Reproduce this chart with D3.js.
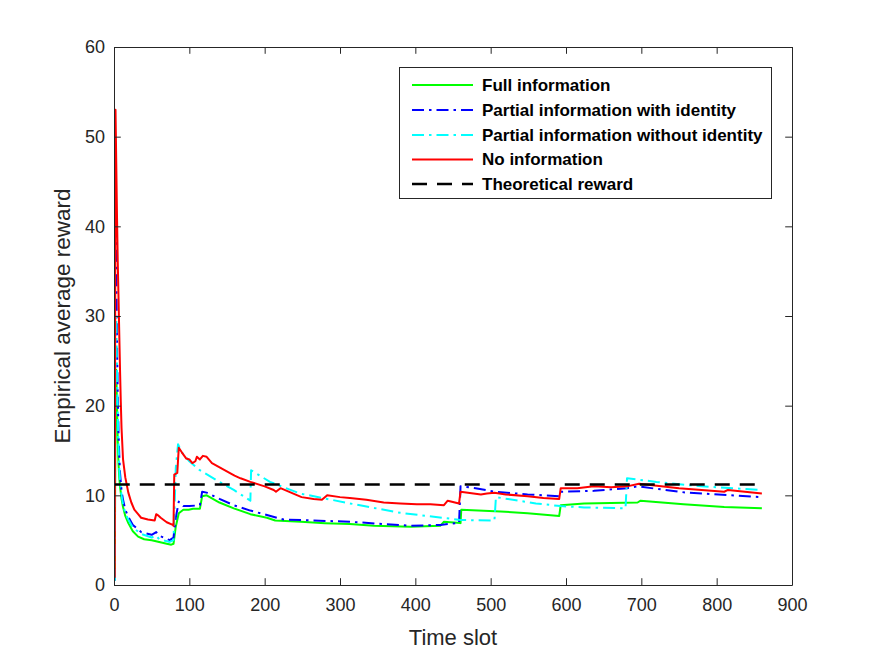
<!DOCTYPE html>
<html>
<head>
<meta charset="utf-8">
<script src="https://cdn.jsdelivr.net/npm/d3@7"></script>
<style>
  html, body { margin: 0; padding: 0; background: #fff; }
  svg { display: block; }
  text { font-family: "Liberation Sans", Arial, Helvetica, sans-serif; }
</style>
</head>
<body>
<div id="chart"></div>
<script>
// ---- Data ----
const xTicks = [0, 100, 200, 300, 400, 500, 600, 700, 800, 900];
const yTicks = [0, 10, 20, 30, 40, 50, 60];

const seriesNames = [
  "Full information",
  "Partial information with identity",
  "Partial information without identity",
  "No information",
  "Theoretical reward"
];

// [time slot, empirical average reward]
const fullInfo = [
  [1,0.5],[2,20],[3,24],[4,20],[5,16],[6,13.5],[7,12],[8,11],[10,9.6],[12,8.7],[15,7.7],[19,6.9],[25,6.0],[32,5.4],[40,5.1],[50,5.0],[60,4.8],[70,4.6],[76,4.5],[79,4.6],[82,6.5],[86,8.0],[92,8.4],[99,8.4],[105,8.5],[114,8.5],[117,9.9],[123,10.0],[140,9.2],[159,8.55],[181,7.9],[203,7.5],[214,7.2],[248,7.05],[280,6.9],[313,6.8],[345,6.6],[394,6.5],[433,6.6],[438,7.05],[455,6.95],[460,6.9],[461,8.4],[513,8.2],[549,8.0],[591,7.7],[593,8.9],[624,9.1],[695,9.2],[699,9.4],[756,9.0],[810,8.7],[860,8.55]
];
const partialWithId = [
  [1,0.5],[2,49],[3,35],[4,27],[5,21],[6,17],[7,14.5],[8,12.5],[10,10.5],[12,9.5],[15,8.4],[19,7.6],[25,6.7],[36,5.9],[50,5.6],[56,5.9],[60,5.5],[74,5.0],[79,5.3],[82,7.5],[86,9.3],[92,8.8],[100,8.8],[114,8.9],[117,10.4],[123,10.3],[140,9.6],[159,8.9],[181,8.3],[203,7.8],[225,7.3],[248,7.25],[313,7.05],[394,6.6],[433,6.7],[455,6.9],[458,6.9],[460,11.0],[480,10.8],[505,10.4],[549,10.1],[591,9.9],[593,10.4],[637,10.5],[681,10.8],[695,11.0],[760,10.3],[860,9.8]
];
const partialWithoutId = [
  [1,0.5],[2,28],[3,30],[4,24],[5,19],[6,15.5],[7,13],[8,11.5],[10,10],[12,9],[15,8],[19,7.3],[25,6.4],[36,5.7],[50,5.3],[56,5.5],[60,5.1],[74,4.8],[79,5.0],[82,13],[85,15.7],[90,14.8],[100,13.8],[114,12.8],[136,11.7],[159,10.6],[181,9.4],[182,12.8],[207,11.5],[247,10.2],[313,9.1],[380,8.05],[446,7.4],[460,7.25],[505,7.2],[507,9.8],[560,9.1],[593,8.8],[624,8.65],[679,8.55],[681,11.9],[720,11.5],[780,11.0],[860,10.6]
];
const noInfo = [
  [1,0.8],[2,53],[3,47],[4,41],[5,36],[6,32],[7,28],[8,24],[9,20.5],[10,17.5],[12,14],[15,12],[19,10.3],[23,9.2],[27,8.4],[32,7.9],[36,7.5],[45,7.3],[54,7.2],[56,7.9],[58,7.8],[62,7.5],[70,7.0],[78,6.7],[79,6.6],[80,12.3],[84,12.5],[86,15.3],[90,14.8],[96,14.1],[100,14.0],[104,13.6],[108,13.8],[110,14.3],[114,14.0],[118,14.4],[123,14.3],[130,13.6],[145,12.9],[160,12.2],[168,11.9],[181,11.5],[200,11.0],[212,10.6],[215,10.4],[221,10.8],[235,10.3],[249,9.8],[265,9.6],[276,9.5],[283,10.0],[300,9.8],[313,9.7],[335,9.5],[358,9.2],[380,9.1],[402,9.0],[420,9.0],[438,8.9],[443,9.4],[458,9.1],[460,10.4],[487,10.1],[495,10.2],[505,10.3],[520,10.1],[549,9.9],[570,9.7],[591,9.6],[593,10.8],[615,10.8],[637,11.0],[660,10.9],[681,11.0],[697,11.3],[750,10.8],[810,10.4],[815,10.6],[860,10.2]
];
const theoretical = [[1,11.2],[860,11.2]];

// ---- Layout ----
const W = 875, H = 657;
const M = { left: 114, right: 792, top: 47, bottom: 585 };

const svg = d3.select("#chart").append("svg").attr("width", W).attr("height", H);
svg.append("rect").attr("width", W).attr("height", H).attr("fill", "#fff");

const x = d3.scaleLinear().domain([0, 900]).range([M.left, M.right]);
const y = d3.scaleLinear().domain([0, 60]).range([M.bottom, M.top]);

const axisColor = "#262626";

svg.append("clipPath").attr("id", "clip").append("rect")
  .attr("x", M.left).attr("y", M.top).attr("width", M.right - M.left).attr("height", M.bottom - M.top);

const tickLen = 6.8;
const xAxisB = d3.axisBottom(x).tickValues(xTicks).tickSizeInner(-tickLen).tickSizeOuter(0).tickPadding(13);
const yAxisL = d3.axisLeft(y).tickValues(yTicks).tickSizeInner(-tickLen).tickSizeOuter(0).tickPadding(9);
const xAxisT = d3.axisTop(x).tickValues(xTicks).tickSizeInner(-tickLen).tickSizeOuter(0).tickFormat("");
const yAxisR = d3.axisRight(y).tickValues(yTicks).tickSizeInner(-tickLen).tickSizeOuter(0).tickFormat("");

function styleAxis(g) {
  g.select(".domain").attr("stroke", axisColor).attr("stroke-width", 1);
  g.selectAll(".tick line").attr("stroke", axisColor).attr("stroke-width", 1);
  g.selectAll(".tick text").attr("fill", axisColor).style("font-size", "18px")
    .style("font-family", "'Liberation Sans', Arial, sans-serif");
}

const line = d3.line().x(d => x(d[0])).y(d => y(d[1]));
const plot = svg.append("g").attr("clip-path", "url(#clip)");

const styles = [
  { data: fullInfo, color: "#00ff00", dash: null, width: 2 },
  { data: partialWithId, color: "#0000ff", dash: "12,5,2.5,5", width: 2 },
  { data: partialWithoutId, color: "#00ffff", dash: "12,5,2.5,5", width: 2 },
  { data: noInfo, color: "#ff0000", dash: null, width: 2 },
  { data: theoretical, color: "#000000", dash: "15,10", width: 2.5 }
];

styles.forEach(s => {
  plot.append("path").datum(s.data)
    .attr("d", line)
    .attr("fill", "none")
    .attr("stroke", s.color)
    .attr("stroke-width", s.width)
    .attr("stroke-linejoin", "round")
    .attr("stroke-dasharray", s.dash);
});

svg.append("g").attr("transform", `translate(0,${M.bottom})`).call(xAxisB).call(styleAxis);
svg.append("g").attr("transform", `translate(${M.left},0)`).call(yAxisL).call(styleAxis);
svg.append("g").attr("transform", `translate(0,${M.top})`).call(xAxisT).call(styleAxis);
svg.append("g").attr("transform", `translate(${M.right},0)`).call(yAxisR).call(styleAxis);

svg.append("text").attr("x", (M.left + M.right) / 2).attr("y", 645)
  .attr("text-anchor", "middle").attr("fill", axisColor).style("font-size", "22px").text("Time slot");
svg.append("text").attr("transform", `translate(70,${(M.top + M.bottom) / 2}) rotate(-90)`)
  .attr("text-anchor", "middle").attr("fill", axisColor).style("font-size", "22.5px").text("Empirical average reward");

const lg = svg.append("g");
lg.append("rect").attr("x", 399.5).attr("y", 67.5).attr("width", 372).attr("height", 131)
  .attr("fill", "#fff").attr("stroke", axisColor).attr("stroke-width", 1);
const rowY = [85, 110, 135, 159.5, 184];
styles.forEach((s, i) => {
  lg.append("line").attr("x1", 412).attr("x2", 473).attr("y1", rowY[i]).attr("y2", rowY[i])
    .attr("stroke", s.color).attr("stroke-width", s.width).attr("stroke-dasharray", s.dash);
  lg.append("text").attr("x", 482).attr("y", rowY[i]).attr("dy", "0.35em")
    .attr("fill", "#000").style("font-size", "17px").style("font-weight", "bold").text(seriesNames[i]);
});
</script>
</body>
</html>
